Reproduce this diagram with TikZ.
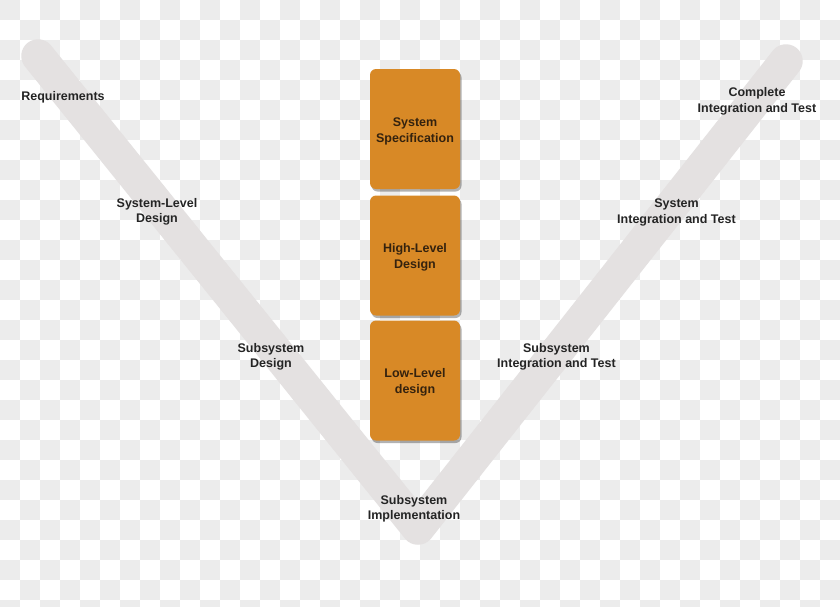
\documentclass[tikz,border=0pt]{standalone}
\usepackage{fontspec}
\setmainfont{Liberation Sans}
\usetikzlibrary{shadows}
\definecolor{checkgray}{RGB}{236,236,236}
\definecolor{bandgray}{RGB}{228,225,225}
\definecolor{boxorange}{RGB}{216,137,38}
\definecolor{boxtext}{RGB}{52,34,14}
\definecolor{labeltext}{RGB}{36,36,36}
\tikzset{
  phase/.style={text=labeltext, align=center, inner sep=0pt,
    font=\fontsize{12.5}{15.5}\selectfont\bfseries},
  levelbox/.style={fill=boxorange, rounded corners=6pt, minimum width=90pt,
    minimum height=120pt, inner sep=0pt, text=boxtext, align=center,
    font=\fontsize{12.5}{15.5}\selectfont\bfseries,
    drop shadow={shadow xshift=1.5pt, shadow yshift=-2.5pt, opacity=0.3, fill=black}},
  vband/.style={draw=bandgray, line width=33.5pt, line cap=round, line join=round}
}
\begin{document}
\begin{tikzpicture}[x=1pt,y=-1pt]
\useasboundingbox (0,0) rectangle (840,606);
\fill[white] (0,0) rectangle (840,606);
\foreach \i in {0,...,41}{\foreach \j in {0,...,30}{%
  \pgfmathtruncatemacro\s{mod(\i+\j,2)}%
  \ifnum\s=0 \fill[checkgray] (\i*20,\j*20) rectangle ++(20,20);\fi}}
% V band
\coordinate (vl) at (38,56);
\coordinate (vb) at (418,528);
\coordinate (vr) at (786,61);
\draw[vband] (vl) -- (vb) -- (vr);
% boxes
\node[levelbox] (spec) at (415,129) {};
\node[levelbox] (hld) at (415,255.5) {};
\node[levelbox] (lld) at (415,380.5) {};
\node[phase, text=boxtext] (spect) at (415,131.5) {System\\Specification};
\node[phase, text=boxtext] (hldt) at (415,257.5) {High-Level\\Design};
\node[phase, text=boxtext] (lldt) at (415,382.5) {Low-Level\\design};
% labels
\node[phase] (req) at (63,97) {Requirements};
\node[phase] (sld) at (157,212) {System-Level\\Design};
\node[phase] (ssd) at (271,357) {Subsystem\\Design};
\node[phase] (ssi) at (414,509) {Subsystem\\Implementation};
\node[phase] (ssit) at (556.5,357) {Subsystem\\Integration and Test};
\node[phase] (sit) at (676.5,212.5) {System\\Integration and Test};
\node[phase] (cit) at (757,101.5) {Complete\\Integration and Test};
\end{tikzpicture}
\end{document}
